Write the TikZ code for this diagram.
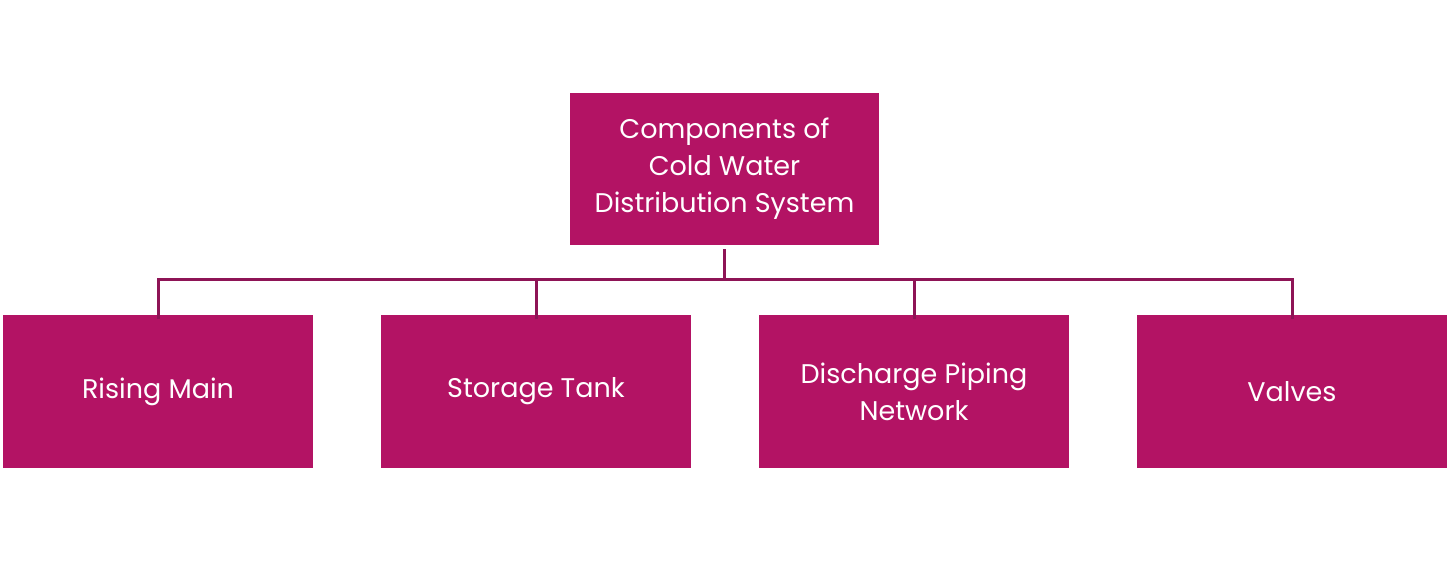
\documentclass[tikz,border=0pt]{standalone}
\usepackage{fontspec}
\setmainfont{Poppins}
\definecolor{boxc}{HTML}{B31364}
\definecolor{linec}{HTML}{8E1456}
\begin{document}
\begin{tikzpicture}[x=1pt,y=-1pt,
  box/.style={fill=boxc,draw=none,minimum width=310pt,minimum height=152pt,text=white,align=center,font=\fontsize{27}{37}\selectfont,inner sep=0pt},
  conn/.style={draw=linec,line width=3pt}]
\useasboundingbox (0,0) rectangle (1449,561);
\node[box,minimum width=309pt] (top) at (724.5,169) {Components of\\Cold Water\\Distribution System};
\node[box] (a) at (158,391.5) {Rising Main};
\node[box] (b) at (536,391.5) {Storage Tank};
\node[box] (c) at (914,391.5) {Discharge Piping\\Network};
\node[box] (d) at (1292,391.5) {Valves};
\coordinate (j) at (724.5,280);
\draw[conn] ([yshift=-4pt]top.south) -- (j);
\draw[conn] ([yshift=-4pt]a.north) |- (j) -| ([yshift=-4pt]d.north);
\draw[conn] ([yshift=-4pt]b.north) -- (b.north |- j);
\draw[conn] ([yshift=-4pt]c.north) -- (c.north |- j);
\end{tikzpicture}
\end{document}
